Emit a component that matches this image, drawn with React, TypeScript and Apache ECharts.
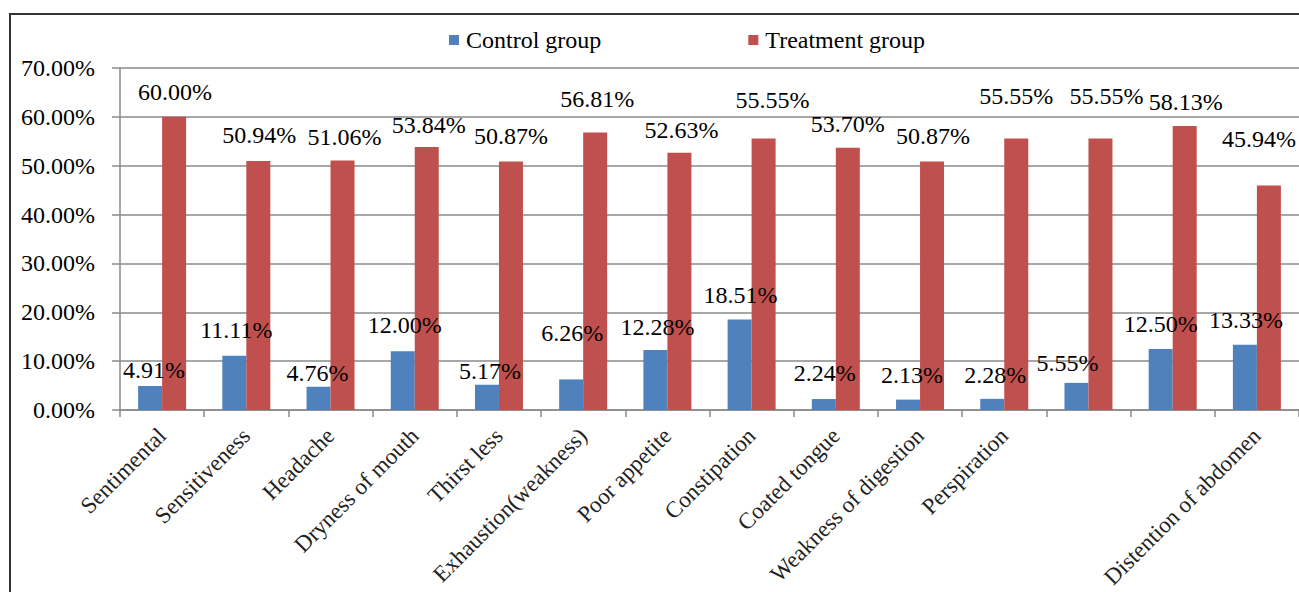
import React, { useEffect, useRef } from "react";
import * as echarts from "echarts";

const categories = [
  "Sentimental",
  "Sensitiveness",
  "Headache",
  "Dryness of mouth",
  "Thirst less",
  "Exhaustion(weakness)",
  "Poor appetite",
  "Constipation",
  "Coated tongue",
  "Weakness of digestion",
  "Perspiration",
  "",
  " ",
  "Distention of abdomen",
];

const controlGroup = [4.91, 11.11, 4.76, 12.0, 5.17, 6.26, 12.28, 18.51, 2.24, 2.13, 2.28, 5.55, 12.5, 13.33];
const treatmentGroup = [60.0, 50.94, 51.06, 53.84, 50.87, 56.81, 52.63, 55.55, 53.7, 50.87, 55.55, 55.55, 58.13, 45.94];

const yTicks = [0, 10, 20, 30, 40, 50, 60, 70];

// label nudges (px) as placed in the reference
const controlLabelNudge = [
  [4, -4], [2, -14], [-1, -2], [2, -14], [3, -2], [1, -34], [2, -11],
  [1, -13], [1, -14], [4, -13], [3, -12], [-9, -8], [0, -13], [1, -13],
];
const treatmentLabelNudge = [
  [1, -13], [1, -14], [2, -12], [2, -10], [0, -13], [2, -21], [2, -11],
  [9, -27], [0, -12], [1, -13], [0, -31], [6, -31], [1, -12], [-10, -35],
];

const FONT = "'Liberation Serif', 'Times New Roman', serif";

export default function App() {
  const ref = useRef<HTMLDivElement>(null);

  useEffect(() => {
    if (!ref.current) return;
    const chart = echarts.init(ref.current, undefined, { renderer: "svg" });

    const mk = (vals: number[], nudges: number[][]) =>
      vals.map((v, i) => ({
        value: v,
        label: { offset: nudges[i] },
      }));

    const labelStyle = {
      show: true,
      position: "top" as const,
      distance: 0,
      fontSize: 24,
      fontFamily: FONT,
      color: "#000",
      formatter: (p: any) => Number(p.value).toFixed(2) + "%",
    };

    chart.setOption({
      animation: false,
      backgroundColor: "#fff",
      legend: {
        left: 449,
        top: 28,
        padding: 0,
        itemWidth: 10,
        itemHeight: 10,
        itemGap: 147,
        icon: "rect",
        textStyle: { fontSize: 24, fontFamily: FONT, color: "#000", padding: [0, 0, 0, 2] },
        data: ["Control group", "Treatment group"],
      },
      graphic: [
        {
          type: "rect",
          shape: { x: 10, y: 14, width: 1400, height: 700 },
          style: { fill: "none", stroke: "#333", lineWidth: 2 },
          silent: true,
        },
      ],
      grid: { left: 120, right: 0, top: 68, bottom: 182, containLabel: false },
      xAxis: {
        type: "category",
        data: categories,
        axisLine: { lineStyle: { color: "#8a8a8a", width: 1.5 } },
        axisTick: { show: true, length: 7, interval: 0, lineStyle: { color: "#8a8a8a", width: 1.5 } },
        axisLabel: {
          interval: 0,
          rotate: 45,
          margin: 22,
          fontSize: 23,
          fontFamily: FONT,
          color: "#222",
        },
      },
      yAxis: {
        type: "value",
        min: yTicks[0],
        max: yTicks[yTicks.length - 1],
        interval: 10,
        axisLine: { show: true, lineStyle: { color: "#8a8a8a", width: 1.5 } },
        axisTick: { show: true, length: 8, lineStyle: { color: "#8a8a8a", width: 1.5 } },
        splitLine: { show: true, lineStyle: { color: "#8a8a8a", width: 1.5 } },
        axisLabel: {
          margin: 25,
          fontSize: 24,
          fontFamily: FONT,
          color: "#000",
          formatter: (v: number) => v.toFixed(2) + "%",
        },
      },
      series: [
        {
          name: "Control group",
          type: "bar",
          barWidth: 24,
          barGap: "0%",
          itemStyle: { color: "#4F81BD" },
          label: labelStyle,
          data: mk(controlGroup, controlLabelNudge),
        },
        {
          name: "Treatment group",
          type: "bar",
          barWidth: 24,
          barGap: "0%",
          itemStyle: { color: "#C0504D" },
          label: labelStyle,
          data: mk(treatmentGroup, treatmentLabelNudge),
        },
      ],
    });

    return () => chart.dispose();
  }, []);

  return (
    <div
      ref={ref}
      style={{ position: "fixed", left: 0, top: 0, width: 1299, height: 592, background: "#fff" }}
    />
  );
}
